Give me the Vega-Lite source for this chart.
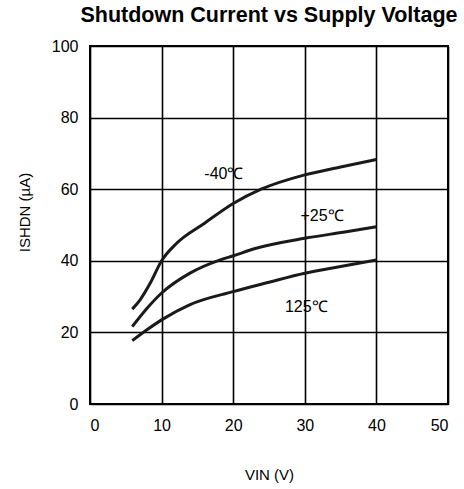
{
  "$schema": "https://vega.github.io/schema/vega-lite/v6.json",
  "autosize": "none",
  "width": 358,
  "height": 358,
  "padding": {"left": 90, "top": 46, "right": 16, "bottom": 85},
  "background": "white",
  "config": {
    "font": "Liberation Sans",
    "view": {"stroke": "black", "strokeWidth": 2},
    "axis": {"gridColor": "black", "gridWidth": 1.6, "gridOpacity": 1, "domain": false, "ticks": false, "labelFont": "Liberation Sans", "labelFontSize": 16, "labelColor": "black", "titleFont": "Liberation Sans", "titleFontSize": 15, "titleFontWeight": "normal", "titleColor": "black"}
  },
  "title": {"text": "Shutdown Current vs Supply Voltage", "font": "Liberation Sans", "fontSize": 21.5, "fontWeight": "bold", "color": "black", "anchor": "middle", "offset": 12},
  "datasets": {
    "curves": [
      {"v": 5.9, "i": 26.5, "t": "-40"},
      {"v": 7, "i": 29.1, "t": "-40"},
      {"v": 8.4, "i": 33.7, "t": "-40"},
      {"v": 10, "i": 40, "t": "-40"},
      {"v": 12.1, "i": 44.9, "t": "-40"},
      {"v": 16, "i": 50.5, "t": "-40"},
      {"v": 20, "i": 56, "t": "-40"},
      {"v": 23.9, "i": 60, "t": "-40"},
      {"v": 30, "i": 64, "t": "-40"},
      {"v": 35, "i": 66.2, "t": "-40"},
      {"v": 40, "i": 68.3, "t": "-40"},
      {"v": 5.9, "i": 21.6, "t": "25"},
      {"v": 8, "i": 26.8, "t": "25"},
      {"v": 10, "i": 31, "t": "25"},
      {"v": 13.9, "i": 36.5, "t": "25"},
      {"v": 18.1, "i": 40.2, "t": "25"},
      {"v": 20, "i": 41.4, "t": "25"},
      {"v": 23.2, "i": 43.5, "t": "25"},
      {"v": 30, "i": 46.3, "t": "25"},
      {"v": 35.8, "i": 48.1, "t": "25"},
      {"v": 40, "i": 49.5, "t": "25"},
      {"v": 5.9, "i": 17.7, "t": "125"},
      {"v": 8, "i": 20.8, "t": "125"},
      {"v": 10, "i": 23.5, "t": "125"},
      {"v": 13.9, "i": 27.7, "t": "125"},
      {"v": 20, "i": 31.4, "t": "125"},
      {"v": 25, "i": 34, "t": "125"},
      {"v": 30, "i": 36.5, "t": "125"},
      {"v": 35, "i": 38.4, "t": "125"},
      {"v": 40, "i": 40.2, "t": "125"}
    ],
    "labels": [
      {"v": 18.7, "i": 64.2, "label": "-40℃"},
      {"v": 32.4, "i": 52.5, "label": "+25℃"},
      {"v": 30.2, "i": 27, "label": "125℃"}
    ]
  },
  "layer": [
    {
      "data": {"name": "curves"},
      "mark": {"type": "line", "color": "#1a1a1a", "strokeWidth": 3, "interpolate": "monotone"},
      "encoding": {
        "x": {"field": "v", "type": "quantitative", "scale": {"domain": [0, 50], "nice": false}, "axis": {"values": [0, 10, 20, 30, 40, 50], "title": "VIN (V)", "labelPadding": 13, "titlePadding": 34}},
        "y": {"field": "i", "type": "quantitative", "scale": {"domain": [0, 100], "nice": false}, "axis": {"values": [0, 20, 40, 60, 80, 100], "title": "ISHDN (µA)", "labelPadding": 12, "titlePadding": 19, "titleY": 166}},
        "detail": {"field": "t"}
      }
    },
    {
      "data": {"name": "labels"},
      "mark": {"type": "text", "font": "Liberation Sans", "fontSize": 16, "color": "black", "align": "center", "baseline": "middle"},
      "encoding": {
        "x": {"field": "v", "type": "quantitative"},
        "y": {"field": "i", "type": "quantitative"},
        "text": {"field": "label"}
      }
    }
  ]
}
